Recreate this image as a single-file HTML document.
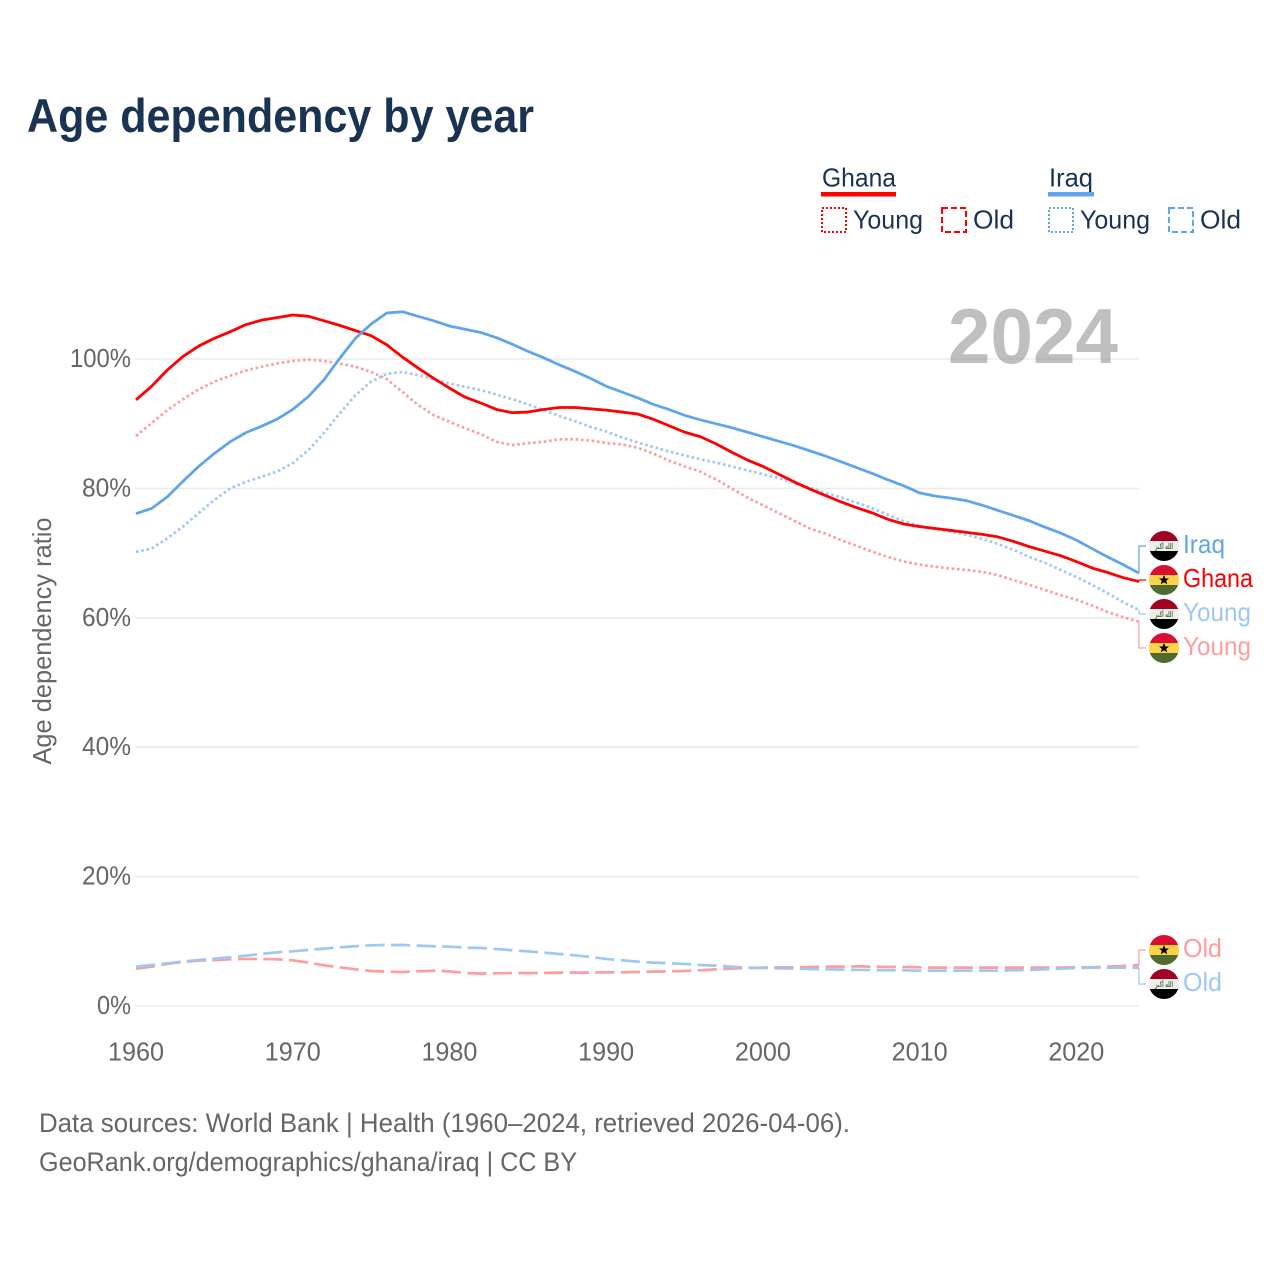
<!DOCTYPE html>
<html lang="en">
<head>
<meta charset="utf-8">
<title>Age dependency by year</title>
<style>
html,body{margin:0;padding:0;background:#fff;}
svg{display:block;font-family:"Liberation Sans",sans-serif;}
</style>
</head>
<body>
<svg id="chart" width="1280" height="1280" viewBox="0 0 1280 1280" xmlns="http://www.w3.org/2000/svg">
  <defs>
    <clipPath id="flag-clip"><circle cx="0" cy="0" r="15"></circle></clipPath>
    <g id="flag-ghana" clip-path="url(#flag-clip)">
      <rect x="-15" y="-15" width="30" height="10.2" fill="#d80f33"></rect>
      <rect x="-15" y="-5" width="30" height="10.2" fill="#fcd348"></rect>
      <rect x="-15" y="5" width="30" height="10.2" fill="#4f6b2e"></rect>
      <polygon points="0,-5 1.5,-1.5 5,-1.5 2.2,0.8 3.2,4.3 0,2.2 -3.2,4.3 -2.2,0.8 -5,-1.5 -1.5,-1.5" fill="#000"></polygon>
    </g>
    <g id="flag-iraq" clip-path="url(#flag-clip)">
      <rect x="-15" y="-15" width="30" height="10.2" fill="#a30023"></rect>
      <rect x="-15" y="-5" width="30" height="10.2" fill="#eeeeee"></rect>
      <rect x="-15" y="5" width="30" height="10.2" fill="#000"></rect>
      <text x="0" y="3" text-anchor="middle" font-size="8" font-weight="bold" fill="#4f7a3e" textLength="18" lengthAdjust="spacingAndGlyphs" style="font-family:'DejaVu Sans',sans-serif">الله أكبر</text>
    </g>
  </defs>

  <text x="27" y="132" font-size="47" font-weight="700" fill="#1a3352" textLength="507" lengthAdjust="spacingAndGlyphs">Age dependency by year</text>

  <g>
    <g fill="#1a3352" font-size="26">
      <text x="822" y="186.5" textLength="74" lengthAdjust="spacingAndGlyphs">Ghana</text>
      <rect x="821" y="192" width="75" height="4.5" fill="#ff0000"></rect>
      <rect x="822" y="208" width="24" height="24" fill="none" stroke="#ff0000" stroke-width="2" stroke-dasharray="2 2"></rect>
      <text x="853" y="228.5" textLength="70" lengthAdjust="spacingAndGlyphs">Young</text>
      <rect x="942" y="208" width="24" height="24" fill="none" stroke="#ff0000" stroke-width="2" stroke-dasharray="6 3"></rect>
      <text x="973" y="228.5" textLength="41" lengthAdjust="spacingAndGlyphs">Old</text>
    </g>
    <g fill="#1a3352" font-size="26">
      <text x="1049" y="186.5" textLength="44" lengthAdjust="spacingAndGlyphs">Iraq</text>
      <rect x="1048" y="192" width="46" height="4.5" fill="#60a5ec"></rect>
      <rect x="1049" y="208" width="24" height="24" fill="none" stroke="#60a5ec" stroke-width="2" stroke-dasharray="2 2"></rect>
      <text x="1080" y="228.5" textLength="70" lengthAdjust="spacingAndGlyphs">Young</text>
      <rect x="1169" y="208" width="24" height="24" fill="none" stroke="#60a5ec" stroke-width="2" stroke-dasharray="6 3"></rect>
      <text x="1200" y="228.5" textLength="41" lengthAdjust="spacingAndGlyphs">Old</text>
    </g>
  </g>

  <g id="grid"></g>
  <g id="yticks"></g>
  <g id="xticks"></g>

  <text transform="translate(51 641) rotate(-90)" text-anchor="middle" font-size="26" fill="#666666" textLength="247" lengthAdjust="spacingAndGlyphs">Age dependency ratio</text>

  <text x="948" y="363" font-size="78" font-weight="700" fill="#808080" fill-opacity="0.5" textLength="170" lengthAdjust="spacingAndGlyphs">2024</text>

  <g id="series"></g>
  <g id="labels"></g>

  <text x="39" y="1132" font-size="27" fill="#666666" textLength="811" lengthAdjust="spacingAndGlyphs">Data sources: World Bank | Health (1960–2024, retrieved 2026-04-06).</text>
  <text x="39" y="1171" font-size="27" fill="#666666" textLength="538" lengthAdjust="spacingAndGlyphs">GeoRank.org/demographics/ghana/iraq | CC BY</text>
</svg>
<script>
const firstYear = 1960;
const lastYear = 2024;
const xTickLabels = [1960, 1970, 1980, 1990, 2000, 2010, 2020];
const yTickLabels = [0, 20, 40, 60, 80, 100];

const ghanaTotal = [93.7,95.8,98.3,100.4,102.0,103.2,104.2,105.3,106.0,106.4,
106.8,106.6,105.9,105.2,104.4,103.6,102.2,100.3,98.6,97.0,
95.5,94.1,93.2,92.2,91.7,91.8,92.2,92.5,92.5,92.3,
92.1,91.8,91.5,90.7,89.7,88.7,88.0,86.9,85.6,84.4,
83.4,82.2,81.0,79.9,78.9,77.9,77.0,76.2,75.2,74.5,
74.1,73.8,73.5,73.2,72.9,72.5,71.8,71.0,70.3,69.6,
68.7,67.7,67.0,66.2,65.6];

const iraqTotal = [76.1,76.9,78.7,81.1,83.4,85.4,87.2,88.6,89.6,90.7,
92.2,94.2,96.8,100.1,103.2,105.4,107.1,107.3,106.6,105.9,
105.1,104.6,104.1,103.3,102.3,101.2,100.2,99.1,98.1,97.0,
95.8,94.9,94.0,93.0,92.2,91.3,90.6,90.0,89.4,88.7,
88.0,87.3,86.6,85.8,85.0,84.1,83.2,82.3,81.3,80.4,
79.3,78.8,78.5,78.1,77.4,76.6,75.8,75.0,74.0,73.1,
72.0,70.7,69.4,68.2,66.9];

const ghanaYoung = [88.1,90.1,92.1,93.8,95.3,96.5,97.4,98.2,98.8,99.3,
99.7,99.9,99.7,99.3,98.8,98.0,96.9,94.9,92.9,91.3,
90.3,89.3,88.4,87.2,86.7,87.0,87.2,87.6,87.6,87.4,
87.0,86.8,86.3,85.4,84.3,83.4,82.6,81.4,80.0,78.6,
77.4,76.2,75.0,73.8,73.0,72.0,71.1,70.2,69.4,68.7,
68.2,67.9,67.6,67.4,67.1,66.6,65.8,65.1,64.3,63.5,
62.8,61.9,60.9,60.1,59.4];

const iraqYoung = [70.2,70.7,72.3,74.1,76.2,78.2,80.0,81.0,81.8,82.6,
83.9,85.9,88.6,91.6,94.4,96.5,97.7,98.0,97.5,96.9,
96.2,95.7,95.2,94.5,93.8,93.0,92.1,91.2,90.4,89.5,
88.8,87.9,87.1,86.4,85.7,85.1,84.5,84.0,83.4,82.8,
82.2,81.6,80.8,80.1,79.3,78.6,77.8,76.9,75.9,74.9,
74.2,73.7,73.3,72.8,72.2,71.4,70.5,69.4,68.5,67.4,
66.3,65.1,63.8,62.4,61.2];

const ghanaOld = [5.77,6.08,6.5,6.8,7.0,7.11,7.22,7.27,7.27,7.22,
7.06,6.7,6.29,5.98,5.67,5.41,5.31,5.26,5.36,5.46,
5.36,5.1,5.0,5.05,5.1,5.1,5.1,5.16,5.16,5.16,
5.21,5.21,5.26,5.31,5.36,5.41,5.52,5.67,5.77,5.88,
5.93,5.98,5.98,6.03,6.08,6.08,6.13,6.08,6.03,6.03,
5.98,5.93,5.93,5.93,5.93,5.93,5.93,5.93,5.93,5.93,
5.98,5.98,6.08,6.19,6.34];

const iraqOld = [6.08,6.34,6.6,6.86,7.11,7.32,7.53,7.78,8.04,8.3,
8.45,8.66,8.87,9.07,9.23,9.38,9.43,9.43,9.33,9.23,
9.17,9.02,8.97,8.81,8.61,8.45,8.25,8.04,7.83,7.58,
7.27,7.06,6.86,6.7,6.6,6.5,6.34,6.24,6.08,5.93,
5.88,5.83,5.77,5.72,5.67,5.62,5.57,5.57,5.52,5.52,
5.46,5.46,5.46,5.46,5.46,5.46,5.52,5.57,5.67,5.77,
5.88,5.93,5.93,5.93,5.88];

const svgNS = 'http://www.w3.org/2000/svg';
const plotLeft = 136, plotRight = 1139, plotZero = 1006, plotHundred = 359;
function xScale(year) { return plotLeft + (year - firstYear) * (plotRight - plotLeft) / (lastYear - firstYear); }
function yScale(v) { return plotZero + v * (plotHundred - plotZero) / 100; }
function make(tag, attrs, parent, txt) {
  const el = document.createElementNS(svgNS, tag);
  for (const k in attrs) el.setAttribute(k, attrs[k]);
  if (txt !== undefined) el.textContent = txt;
  parent.appendChild(el);
  return el;
}

const gridG = document.getElementById('grid');
const yG = document.getElementById('yticks');
const xG = document.getElementById('xticks');
const seriesG = document.getElementById('series');
const labelsG = document.getElementById('labels');

yTickLabels.forEach(function (v) {
  const line = make('line', {x1: plotLeft - 1, x2: plotRight, y1: yScale(v), y2: yScale(v), stroke: '#ebebeb', 'stroke-width': 1.6}, gridG);
  
  
  const s = v + '%';
  const width = s.length === 4 ? 61 : (s.length === 3 ? 49 : 34);
  const t = make('text', {x: 131, y: yScale(v) + 8, 'text-anchor': 'end', 'font-size': 26, fill: '#666666', textLength: width, lengthAdjust: 'spacingAndGlyphs'}, yG, s);
  
  
});

xTickLabels.forEach(function (yr) {
  const t = make('text', {x: xScale(yr), y: 1060.5, 'text-anchor': 'middle', 'font-size': 26, fill: '#666666', textLength: 56, lengthAdjust: 'spacingAndGlyphs'}, xG, String(yr));
  
  
});

function drawLine(values, name, color, width, dash) {
  const d = values.map(function (v, i) {
    return (i ? 'L' : 'M') + xScale(firstYear + i).toFixed(2) + ' ' + yScale(v).toFixed(2);
  }).join('');
  const attrs = {d: d, fill: 'none', stroke: color, 'stroke-width': width, 'stroke-linejoin': 'round'};
  if (dash) attrs['stroke-dasharray'] = dash;
  const p = make('path', attrs, seriesG);
  
  
}

const dotted = '2.6 2.75';
const dashed = '19.2 6.4';
drawLine(ghanaYoung, 'line-ghana-young', '#ff9c9c', 2.7, dotted);
drawLine(iraqYoung, 'line-iraq-young', '#9ec7f3', 2.7, dotted);
drawLine(ghanaOld, 'line-ghana-old', '#ff9c9c', 2.7, dashed);
drawLine(iraqOld, 'line-iraq-old', '#9ec7f3', 2.7, dashed);
drawLine(ghanaTotal, 'line-ghana-total', '#ff0000', 2.8);
drawLine(iraqTotal, 'line-iraq-total', '#60a5ec', 2.8);

function endLabel(values, labelY, flag, text, color, width, name) {
  const endY = yScale(values[values.length - 1]);
  const conn = make('path', {d: 'M' + plotRight + ' ' + endY.toFixed(2) + 'V' + labelY + 'H1146', fill: 'none', stroke: color, 'stroke-width': 1.2}, labelsG);
  
  
  const f = make('use', {href: '#flag-' + flag, transform: 'translate(1164 ' + labelY + ')'}, labelsG);
  
  
  const t = make('text', {x: 1183, y: labelY + 6.8, 'font-size': 26, fill: color, textLength: width, lengthAdjust: 'spacingAndGlyphs'}, labelsG, text);
  
  
}

endLabel(iraqTotal, 546, 'iraq', 'Iraq', '#60a5ec', 42, 'end-iraq-total');
endLabel(ghanaTotal, 580, 'ghana', 'Ghana', '#ff0000', 70, 'end-ghana-total');
endLabel(iraqYoung, 614, 'iraq', 'Young', '#9ec7f3', 68, 'end-iraq-young');
endLabel(ghanaYoung, 648, 'ghana', 'Young', '#ff9c9c', 68, 'end-ghana-young');
endLabel(ghanaOld, 950, 'ghana', 'Old', '#ff9c9c', 39, 'end-ghana-old');
endLabel(iraqOld, 984, 'iraq', 'Old', '#9ec7f3', 39, 'end-iraq-old');
</script>
</body>
</html>
